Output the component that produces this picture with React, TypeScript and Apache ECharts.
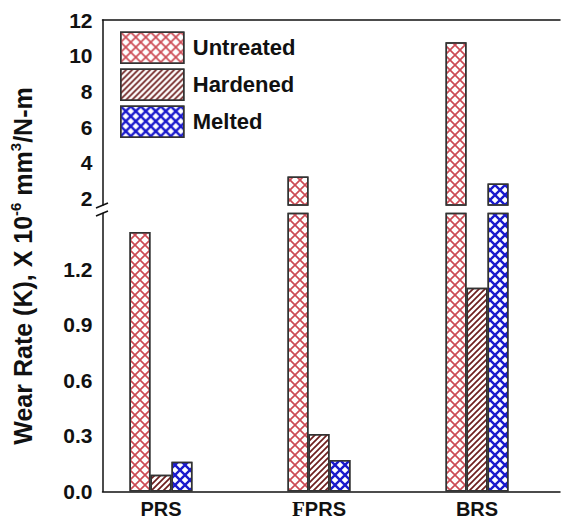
import React, { useEffect, useRef } from 'react';
import * as echarts from 'echarts';

// Wear rate of the three surface conditions for each rail steel
const categories = ['PRS', 'FPRS', 'BRS'];
const seriesNames = ['Untreated', 'Hardened', 'Melted'];
const untreated = [1.4, 3.25, 10.75];
const hardened = [0.09, 0.31, 1.1];
const melted = [0.16, 0.17, 2.85];

// Tick labels of the two panels of the broken value axis
const lowerTicks = [0, 0.3, 0.6, 0.9, 1.2];
const upperTicks = [2, 4, 6, 8, 10, 12];

// Axis break: the lower panel stops at BREAK_LOW, the upper one starts at BREAK_HIGH
const BREAK_LOW = 1.5;
const BREAK_HIGH = 1.65;
const UPPER_MAX = 12;

const FONT = '"Liberation Sans", Arial, Helvetica, sans-serif';
const INK = '#111';
const EDGE = '#333';

// Hatch tiles (10 x 10 units) used as decals
const CROSS = 'path://M0 0L1.2 0L10 8.8L10 10L8.8 10L0 1.2Z M8.8 0L10 0L10 1.2L1.2 10L0 10L0 8.8Z';
const CROSS_BOLD = 'path://M0 0L1.7 0L10 8.3L10 10L8.3 10L0 1.7Z M8.3 0L10 0L10 1.7L1.7 10L0 10L0 8.3Z';
const SLASH = 'path://M0 8L8 0L10 0L10 2L2 10L0 10Z M0 0L2 0L0 2Z M10 10L8 10L10 8Z';

const decals: Record<string, any> = {
  Untreated: {
    symbol: CROSS, symbolSize: 1, symbolKeepAspect: false,
    color: '#cc4b55', dashArrayX: [9.4, 0], dashArrayY: [9.4, 0], rotation: 0,
  },
  Hardened: {
    symbol: SLASH, symbolSize: 1, symbolKeepAspect: false,
    color: '#6e1f1f', dashArrayX: [5.8, 0], dashArrayY: [5.8, 0], rotation: 0,
  },
  Melted: {
    symbol: CROSS_BOLD, symbolSize: 1, symbolKeepAspect: false,
    color: '#1a1acc', dashArrayX: [9.4, 0], dashArrayY: [9.4, 0], rotation: 0,
  },
};

const xPos = categories.map((_, i) => i + 1);

function makeSeries(name: string, values: number[], panel: 0 | 1) {
  return {
    name,
    type: 'bar',
    xAxisIndex: panel,
    yAxisIndex: panel,
    barWidth: 21,
    barGap: '0%',
    clip: true,
    data: xPos.map((x, i) => [
      x,
      panel === 0 ? (values[i] > BREAK_HIGH ? values[i] : '-') : values[i],
    ]),
    itemStyle: {
      color: '#fff',
      borderColor: EDGE,
      borderWidth: 1.5,
      decal: decals[name],
    },
    emphasis: { disabled: true },
  };
}

const valuesByName: Record<string, number[]> = {
  Untreated: untreated,
  Hardened: hardened,
  Melted: melted,
};

export default function App() {
  const ref = useRef<HTMLDivElement>(null);

  useEffect(() => {
    if (!ref.current) return;
    const chart = echarts.init(ref.current, null, { renderer: 'svg' });

    const axisLine = { show: true, onZero: false, lineStyle: { color: INK, width: 1.5 } };
    const tickLabel = { fontSize: 21, fontWeight: 'bold', color: INK, fontFamily: FONT, margin: 10 };
    const xMin = 0.63;
    const xMax = 3.525;

    const option: any = {
      animation: false,
      backgroundColor: '#fff',
      grid: [
        { left: 102.5, right: 6, top: 20, height: 185 },
        { left: 102.5, right: 6, top: 213.5, bottom: 29.5 },
      ],
      xAxis: [
        {
          gridIndex: 0, type: 'value', min: xMin, max: xMax, position: 'top',
          axisLine, axisTick: { show: false }, axisLabel: { show: false },
          splitLine: { show: false },
        },
        {
          gridIndex: 1, type: 'value', min: xMin, max: xMax, position: 'bottom',
          axisLine, axisTick: { show: false }, splitLine: { show: false },
          axisLabel: {
            customValues: xPos,
            margin: 7,
            formatter: (v: number) => {
              const name = categories[Math.round(v) - 1] ?? '';
              return name === 'FPRS' ? '{serif|F}{sans|PRS}' : '{sans|' + name + '}';
            },
            rich: {
              sans: { fontSize: 20, fontWeight: 'bold', color: INK, fontFamily: FONT },
              serif: { fontSize: 21, fontWeight: 'bold', color: INK, fontFamily: '"Liberation Serif", "DejaVu Serif", serif' },
            },
          },
        },
      ],
      yAxis: [
        {
          gridIndex: 0, type: 'value', min: BREAK_HIGH, max: UPPER_MAX,
          axisLine, axisTick: { show: false }, splitLine: { show: false },
          axisLabel: { ...tickLabel, customValues: upperTicks, formatter: (v: number) => String(v) },
        },
        {
          gridIndex: 1, type: 'value', min: 0, max: BREAK_LOW,
          axisLine, axisTick: { show: false }, splitLine: { show: false },
          axisLabel: { ...tickLabel, customValues: lowerTicks, formatter: (v: number) => v.toFixed(1) },
        },
      ],
      legend: {
        data: seriesNames,
        orient: 'vertical',
        left: 120,
        top: 31.5,
        padding: 0,
        itemWidth: 63,
        itemHeight: 31,
        itemGap: 4.5,
        icon: 'rect',
        selectedMode: false,
        itemStyle: { borderColor: EDGE, borderWidth: 1.5 },
        textStyle: { fontSize: 22, fontWeight: 'bold', color: INK, fontFamily: FONT, padding: [0, 0, 0, 4] },
      },
      series: [
        ...seriesNames.map((n) => makeSeries(n, valuesByName[n], 0)),
        ...seriesNames.map((n) => makeSeries(n, valuesByName[n], 1)),
      ],
      graphic: [
        { type: 'line', shape: { x1: 96, y1: 208, x2: 108, y2: 203 }, style: { stroke: INK, lineWidth: 1.5 } },
        { type: 'line', shape: { x1: 96, y1: 216, x2: 108, y2: 211 }, style: { stroke: INK, lineWidth: 1.5 } },
        {
          type: 'text',
          x: 23,
          y: 266,
          rotation: Math.PI / 2,
          style: {
            text: '{m|Wear Rate (K), X 10}{s|-6}{m| mm}{s|3}{m|/N-m}',
            align: 'center',
            verticalAlign: 'middle',
            rich: {
              m: { fontSize: 25, fontWeight: 'bold', fontFamily: FONT, fill: INK, lineHeight: 30 },
              s: { fontSize: 15, fontWeight: 'bold', fontFamily: FONT, fill: INK, lineHeight: 30, verticalAlign: 'top' },
            },
          },
        },
      ],
    };

    chart.setOption(option);
    return () => chart.dispose();
  }, []);

  return (
    <div
      ref={ref}
      style={{ position: 'fixed', left: 0, top: 0, width: 566, height: 521, background: '#fff' }}
    />
  );
}
